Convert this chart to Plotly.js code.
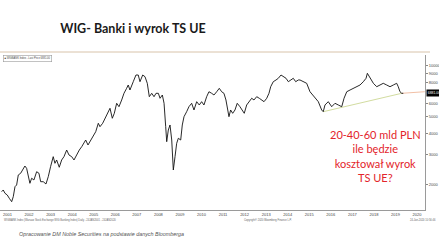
<!DOCTYPE html>
<html>
<head>
<meta charset="utf-8">
<script src="https://cdn.plot.ly/plotly-3.0.1.min.js"></script>
<style>html,body{margin:0;padding:0;background:#fff;}#chart{width:439px;height:247px;}</style>
</head>
<body>
<div id="chart"></div>
<script>
// WIG-Banki (WIGBANK Index)
const dates = [
"2001-03-25","2001-04-21","2001-05-20","2001-06-28","2001-08-01","2001-09-11","2001-10-08","2001-11-06","2001-12-04",
"2002-01-01","2002-02-10","2002-03-17","2002-04-23","2002-05-22","2002-06-19","2002-07-17","2002-08-15","2002-09-23","2002-11-08","2002-12-17",
"2003-01-15","2003-02-28","2003-04-15","2003-05-24","2003-07-02","2003-08-16","2003-09-14","2003-10-13","2003-11-26",
"2004-01-06","2004-02-14","2004-03-31","2004-05-09","2004-06-24","2004-08-02","2004-09-17","2004-10-31","2004-12-11",
"2005-01-07","2005-02-16","2005-03-27","2005-05-12","2005-06-25","2005-08-05","2005-09-18","2005-10-16","2005-12-01",
"2006-01-09","2006-02-17","2006-04-04","2006-05-13","2006-06-16","2006-07-26","2006-09-03","2006-10-19","2006-11-27",
"2007-01-11","2007-02-07","2007-03-08","2007-04-06","2007-05-03","2007-06-18","2007-07-27","2007-08-25","2007-10-10","2007-11-18","2007-12-27",
"2008-01-30","2008-03-11","2008-04-19","2008-05-23","2008-07-01","2008-07-30","2008-09-07","2008-10-06","2008-11-03","2008-11-20","2008-12-17",
"2009-01-15","2009-02-13","2009-03-02","2009-03-12","2009-04-10","2009-05-08","2009-06-05","2009-07-15","2009-08-11","2009-09-09","2009-10-24","2009-12-02",
"2010-01-17","2010-02-25","2010-04-12","2010-05-26","2010-07-05","2010-08-13","2010-09-28","2010-11-06","2010-12-22",
"2011-01-30","2011-03-17","2011-04-30","2011-06-09","2011-07-18","2011-08-21","2011-09-19","2011-10-11","2011-11-08","2011-12-13",
"2012-01-21","2012-02-28","2012-04-14","2012-05-23","2012-06-26","2012-08-06","2012-09-14","2012-10-30","2012-12-08",
"2013-01-23","2013-03-08","2013-04-18","2013-05-27","2013-07-12","2013-08-19","2013-09-17","2013-10-31","2013-12-16",
"2014-01-24","2014-03-11","2014-04-19","2014-06-04","2014-07-13","2014-08-22","2014-10-05","2014-11-15","2014-12-29",
"2015-01-27","2015-03-24","2015-05-20","2015-07-15","2015-08-30","2015-10-08","2015-12-03",
"2016-01-29","2016-02-25","2016-03-25","2016-05-20","2016-07-17","2016-09-11","2016-11-06",
"2017-01-03","2017-02-11","2017-03-29","2017-05-24","2017-07-18","2017-09-14","2017-11-09",
"2018-01-04","2018-02-19","2018-03-13","2018-04-28","2018-06-23","2018-08-19","2018-10-14","2018-12-08",
"2019-02-04","2019-04-01","2019-05-27","2019-07-23","2019-08-19","2019-09-17","2019-10-16","2019-11-12"
];
const values = [
1815,1857,1776,1735,1660,1585,1696,1942,1987,
2276,2329,2435,2570,2491,2276,2033,2176,2127,2379,2329,
2078,2078,2014,2224,2546,2916,2666,2788,2526,
2788,2916,3191,2984,2916,2788,3024,3191,3338,
3495,3655,3416,3655,3823,4090,4584,4377,4584,
4905,5248,5616,4905,5248,6010,5739,6285,6881,
7362,7698,7194,7698,8051,8817,8817,8051,8817,8616,7878,
6571,6881,6571,6881,6881,6431,6724,6010,4377,3572,4185,
4479,3655,2916,2435,2916,3495,3741,3655,4479,5012,5363,5739,
6010,5488,6142,5873,6142,5873,6571,7030,6881,
6724,7030,7362,7030,6881,6285,5488,5012,5488,5248,
5488,6010,5739,5488,5248,5873,6142,6431,6285,
6571,6431,6285,6142,6431,6881,7523,8051,8240,
8432,8817,8616,8432,8051,8240,8432,8051,8240,
8240,8051,7878,7030,6724,6571,6142,
5488,5363,5873,6142,5739,6010,5873,
5739,6431,7030,7194,7362,7523,7698,
8051,8432,9022,8432,7878,7523,7698,7878,
7698,7523,7698,7878,7523,7030,6881,6881
];
// drawn trend lines
const supportDates = ["2016-02-25","2019-10-16"];
const supportValues = [5363,6881];
const levelDates = ["2019-10-16","2020-11-10"];
const levelValues = [6881,7030];
// axis ticks (7000 is hidden behind the last-price box in the reference)
const yTickVals = [2000,3000,4000,5000,6000,8000,9000,10000];
const yTickText = ["2000","3000","4000","5000","6000","8000","9000","10000"];

const lastVal = values[values.length-1];

const traces = [
  {x: supportDates, y: supportValues, type:'scatter', mode:'lines', line:{color:'#d2dca0', width:1}, hoverinfo:'skip'},
  {x: levelDates, y: levelValues, type:'scatter', mode:'lines', line:{color:'#f2c0a6', width:1}, hoverinfo:'skip'},
  {x: dates, y: values, type:'scatter', mode:'lines', line:{color:'#111', width:0.9}, hoverinfo:'skip'}
];

const layout = {
  width:439, height:247,
  margin:{l:0, r:14, t:55, b:37},
  paper_bgcolor:'#fff', plot_bgcolor:'#fff',
  showlegend:false,
  title:{text:'WIG- Banki i wyrok TS UE', x:133/439, xref:'container', xanchor:'center', y:1-29/247, yref:'container', yanchor:'middle',
         font:{family:'Lato, "Noto Sans", sans-serif', size:12.5, color:'#1a1a1a', weight:'bold'}},
  xaxis:{type:'date', range:['2001-02-25','2020-11-14'], dtick:'M12', tick0:'2001-01-01', tickformat:'%Y', ticklabelmode:'period',
         ticks:'', showgrid:false, zeroline:false, showline:true, linecolor:'#9a9a9a', linewidth:1,
         tickfont:{family:'Liberation Sans, sans-serif', size:4, color:'#444'},
         minor:{ticks:'outside', ticklen:8, tickcolor:'#9a9a9a', dtick:'M12', tick0:'2001-01-01', showgrid:false}},
  yaxis:{type:'log', range:[Math.log10(1416), Math.log10(11560)], side:'right', tickvals:yTickVals, ticktext:yTickText,
         ticks:'outside', ticklen:2, tickcolor:'#888', showgrid:false, zeroline:false, showline:true, linecolor:'#9a9a9a', linewidth:1,
         tickfont:{family:'Liberation Sans, sans-serif', size:4, color:'#444'}},
  shapes:[
    {type:'line', xref:'paper', yref:'paper', x0:0, x1:430/425, y0:(210-52)/155, y1:(210-52)/155, line:{color:'#d8c3aa', width:1}}
  ],
  annotations:[
    {xref:'paper', yref:'y', x:426.5/425, y:Math.log10(lastVal), xanchor:'left', yanchor:'middle', showarrow:false,
     text:lastVal.toFixed(2), bgcolor:'#000', font:{color:'#fff', size:3.4, family:'Liberation Sans, sans-serif'}, borderpad:0.8},
    {xref:'paper', yref:'paper', x:3/425, y:(210-55)/155, xanchor:'left', yanchor:'top', showarrow:false,
     text:'■ WIGBANK Index - Last Price '+lastVal.toFixed(2), font:{size:2.6, color:'#444', family:'Liberation Sans, sans-serif'},
     bordercolor:'#999', borderwidth:0.6, borderpad:0.8, bgcolor:'#fff'},
    {xref:'paper', yref:'paper', x:375/425, y:(210-155.5)/155, xanchor:'center', yanchor:'middle', showarrow:false, align:'center',
     text:'20-40-60 mld PLN<br>ile będzie<br>kosztował wyrok<br>TS UE?', font:{family:'Lato, "Open Sans", sans-serif', size:11, color:'#e3242b'}},
    {xref:'paper', yref:'paper', x:17/425, y:(210-234)/155, xanchor:'left', yanchor:'middle', showarrow:false,
     text:'<i>Opracowanie DM Noble Securities na podstawie danych Bloomberga</i>', font:{family:'Liberation Sans, sans-serif', size:5.4, color:'#555'}},
    {xref:'paper', yref:'paper', x:2/425, y:(210-219.5)/155, xanchor:'left', yanchor:'middle', showarrow:false,
     text:'WIGBANK Index (Warsaw Stock Exchange WIG Banking Index) Daily - 24JAN2001 - 24JAN2020', font:{family:'Liberation Sans, sans-serif', size:2.6, color:'#666'}},
    {xref:'paper', yref:'paper', x:268/425, y:(210-219.5)/155, xanchor:'center', yanchor:'middle', showarrow:false,
     text:'Copyright® 2020 Bloomberg Finance L.P.', font:{family:'Liberation Sans, sans-serif', size:2.6, color:'#666'}},
    {xref:'paper', yref:'paper', x:438/425, y:(210-219.5)/155, xanchor:'right', yanchor:'middle', showarrow:false,
     text:'24-Jan-2020 10:56:46', font:{family:'Liberation Sans, sans-serif', size:2.6, color:'#666'}}
  ]
};

Plotly.newPlot('chart', traces, layout, {staticPlot:true, displayModeBar:false});
</script>
</body>
</html>
